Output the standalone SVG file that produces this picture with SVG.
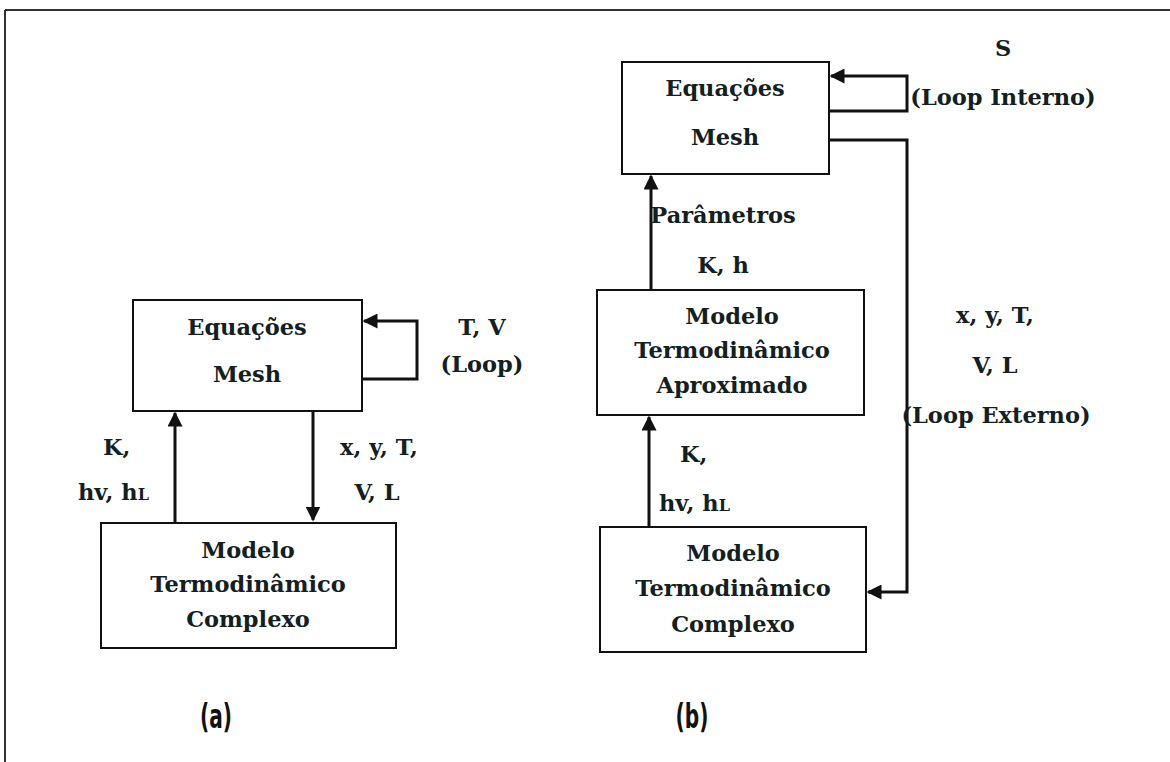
<svg xmlns="http://www.w3.org/2000/svg" width="1170" height="762" viewBox="0 0 1170 762">
<style>
.box{fill:#fff;stroke:#111;stroke-width:2}
.t{font-family:"DejaVu Serif","Liberation Serif",serif;font-weight:bold;font-size:22.5px;fill:#12201f;text-anchor:middle}
.ts{font-family:"DejaVu Serif","Liberation Serif",serif;font-weight:bold;font-size:22.5px;fill:#12201f}
.c{fill:none;stroke:#111;stroke-width:3}
.lab{font-family:"DejaVu Sans Condensed","Liberation Sans",sans-serif;font-weight:bold;font-size:28px;fill:#111;text-anchor:middle}
</style>
<defs>
<marker id="ah" viewBox="0 0 10 10" refX="9" refY="5" markerWidth="5" markerHeight="5" orient="auto" markerUnits="strokeWidth">
<path d="M0,0 L10,5 L0,10 z" fill="#111"/>
</marker>
</defs>
<rect width="1170" height="762" fill="#fff"/>
<g id="frame">
<line x1="5" y1="10" x2="1170" y2="10" stroke="#333" stroke-width="2"/>
<line x1="5" y1="10" x2="5" y2="762" stroke="#333" stroke-width="2"/>
</g>
<g id="connectors">
<path class="c" d="M362,379 H417 V321 H364" marker-end="url(#ah)"/>
<path class="c" d="M175,522 V413" marker-end="url(#ah)"/>
<path class="c" d="M313,411 V520" marker-end="url(#ah)"/>
<path class="c" d="M829,111 H907 V76 H831" marker-end="url(#ah)"/>
<path class="c" d="M829,140 H907 V592 H868" marker-end="url(#ah)"/>
<path class="c" d="M651,289 V176" marker-end="url(#ah)"/>
<path class="c" d="M649,527 V417" marker-end="url(#ah)"/>
</g>
<g id="a-mesh">
<rect class="box" x="133" y="300" width="229" height="111"/>
<text class="t" x="247" y="335">Equações</text>
<text class="t" x="247" y="382">Mesh</text>
</g>
<g id="a-complexo">
<rect class="box" x="101" y="523" width="295" height="125"/>
<text class="t" x="248" y="558">Modelo</text>
<text class="t" x="248" y="592">Termodinâmico</text>
<text class="t" x="248" y="627">Complexo</text>
</g>
<g id="a-labels">
<text class="t" x="482" y="335">T, V</text>
<text class="t" x="482" y="372">(Loop)</text>
<text class="ts" x="103" y="455">K,</text>
<text class="ts" x="78" y="500">hv, h<tspan font-size="16">L</tspan></text>
<text class="t" x="379" y="455">x, y, T,</text>
<text class="t" x="377" y="500">V, L</text>
<text class="lab" transform="translate(216,728) scale(0.8,1.2)">(a)</text>
</g>
<g id="b-mesh">
<rect class="box" x="622" y="62" width="207" height="112"/>
<text class="t" x="725" y="96">Equações</text>
<text class="t" x="725" y="145">Mesh</text>
</g>
<g id="b-aproximado">
<rect class="box" x="597" y="290" width="267" height="125"/>
<text class="t" x="732" y="324">Modelo</text>
<text class="t" x="732" y="358">Termodinâmico</text>
<text class="t" x="732" y="393">Aproximado</text>
</g>
<g id="b-complexo">
<rect class="box" x="600" y="527" width="266" height="125"/>
<text class="t" x="733" y="561">Modelo</text>
<text class="t" x="733" y="596">Termodinâmico</text>
<text class="t" x="733" y="632">Complexo</text>
</g>
<g id="b-labels">
<text class="t" x="1003" y="56">S</text>
<text class="t" x="1003" y="105">(Loop Interno)</text>
<text class="t" x="723" y="223">Parâmetros</text>
<text class="t" x="723" y="273">K, h</text>
<text class="t" x="995" y="323">x, y, T,</text>
<text class="t" x="995" y="373">V, L</text>
<text class="t" x="996" y="423">(Loop Externo)</text>
<text class="ts" x="680" y="462">K,</text>
<text class="ts" x="659" y="511">hv, h<tspan font-size="16">L</tspan></text>
<text class="lab" transform="translate(692,728) scale(0.8,1.2)">(b)</text>
</g>
</svg>
